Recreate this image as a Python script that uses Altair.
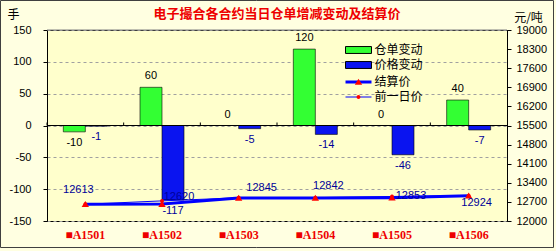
import altair as alt
import pandas as pd

categories = ["■A1501", "■A1502", "■A1503", "■A1504", "■A1505", "■A1506"]
bar_series = ["仓单变动", "价格变动"]
receipt_change = [-10, 60, 0, 120, 0, 40]
price_change = [-1, -117, -5, -14, -46, -7]
line_series = ["结算价", "前一日价"]
settle_price = [12613, 12620, 12845, 12842, 12853, 12924]
prev_price = [12614, 12737, 12850, 12856, 12899, 12931]
left_ticks = [-150, -100, -50, 0, 50, 100, 150]
right_ticks = [12000, 12700, 13400, 14100, 14800, 15500, 16200, 16900, 17600, 18300, 19000]
title_text = "电子撮合各合约当日仓单增减变动及结算价"

n = len(categories)
marker_keys = [s + "_mk" for s in line_series]
bars_df = pd.DataFrame({
    "cat": categories * 2,
    "series": [bar_series[0]] * n + [bar_series[1]] * n,
    "value": receipt_change + price_change,
})
lines_df = pd.DataFrame({
    "cat": categories * 2,
    "name": [line_series[0]] * n + [line_series[1]] * n,
    "mk": [marker_keys[0]] * n + [marker_keys[1]] * n,
    "price": settle_price + prev_price,
})
settle_df = pd.DataFrame({"cat": categories, "price": settle_price})
tick_df = pd.DataFrame({"cat": categories, "y0": [0] * n, "y1": [4.7] * n})
zero_df = pd.DataFrame({"z": [0]})

W, H = 460, 191
FONT = "Liberation Sans"
CJK = "Noto Sans CJK SC"
RED = "#ee0000"
NAVY = "#000099"
BLUE = "#0a14f0"
GREEN = "#33ff33"


def xenc(**kw):
    return alt.X("cat:N", sort=categories, title=None,
                 scale=alt.Scale(domain=categories, paddingInner=0, paddingOuter=0),
                 axis=alt.Axis(orient="bottom", ticks=False, domain=False, labelAngle=0,
                               labelColor=RED, labelFont="Liberation Serif, DejaVu Sans",
                               labelFontWeight="bold", labelFontSize=12, labelPadding=8,
                               grid=False),
                 **kw)


def yl():
    return alt.Scale(domain=[-150, 150], nice=False, zero=False)


def yr():
    return alt.Scale(domain=[12000, 19000], nice=False, zero=False)


xoff = alt.XOffset("series:N", sort=bar_series,
                   scale=alt.Scale(domain=bar_series, paddingInner=0, paddingOuter=0.742))

rect_path = "M-3,-0.8H3V0.8H-3Z"
line_path = "M-3,0H3"
tri_path = "M0,-0.75L0.85,0.65L-0.85,0.65Z"
dot_path = "M-0.45,0A0.45,0.45 0 1,0 0.45,0A0.45,0.45 0 1,0 -0.45,0Z"

LX, LY1, LY2 = 297, 14, 46
leg_common = dict(title=None, orient="none", direction="vertical", symbolSize=75,
                  symbolOffset=8.5, labelOffset=10, labelFont=CJK, labelFontSize=12,
                  labelColor="black", rowPadding=3, padding=0)

bars = alt.Chart(bars_df).mark_bar(stroke="black", strokeWidth=0.6).encode(
    x=xenc(),
    xOffset=xoff,
    y=alt.Y("value:Q", scale=yl(), title="手",
            axis=alt.Axis(orient="left", values=left_ticks, grid=True, gridDash=[3, 3],
                          gridColor="#a0a0a0", tickSize=4, tickColor="black",
                          domainColor="black", labelFont=FONT, labelFontSize=11,
                          labelColor="black", labelPadding=12, labelOverlap=False,
                          labelExpr="'' + datum.value",
                          titleAngle=0, titleX=-34, titleY=-16, titleAlign="center",
                          titleBaseline="middle", titleFont=CJK, titleFontSize=12,
                          titleFontWeight="normal", titleColor="black")),
    color=alt.Color("series:N", scale=alt.Scale(domain=bar_series, range=[GREEN, BLUE]),
                    legend=alt.Legend(legendX=LX, legendY=LY1, symbolType=rect_path,
                                      symbolStrokeColor="black", symbolStrokeWidth=1,
                                      **leg_common)),
)

label_color = alt.condition(alt.datum.series == bar_series[0], alt.value("black"), alt.value(NAVY))
bar_text_base = alt.Chart(bars_df).transform_calculate(lbl="'' + datum.value")
bar_text_pos = bar_text_base.transform_filter("datum.value >= 0").mark_text(
    baseline="middle", dy=-11, font=FONT, fontSize=11).encode(
    x=xenc(), xOffset=xoff, y=alt.Y("value:Q", scale=yl(), axis=None),
    text="lbl:N", color=label_color)
bar_text_neg = bar_text_base.transform_filter("datum.value < 0").mark_text(
    baseline="middle", dy=11, font=FONT, fontSize=11).encode(
    x=xenc(), xOffset=xoff, y=alt.Y("value:Q", scale=yl(), axis=None),
    text="lbl:N", color=label_color)

zero_rule = alt.Chart(zero_df).mark_rule(color="black").encode(
    y=alt.Y("z:Q", scale=yl(), axis=None))
cat_ticks = alt.Chart(tick_df).mark_rule(color="black").encode(
    x=xenc(bandPosition=0),
    y=alt.Y("y0:Q", scale=yl(), axis=None), y2="y1:Q")
top_line = alt.Chart(zero_df).mark_rule(color="#808080").encode(
    x=alt.value(0), x2=alt.value(W), y=alt.value(0))
frame = alt.Chart(zero_df).mark_rect(fillOpacity=0, stroke="#404040", strokeWidth=1).encode(
    x=alt.value(-46.5), x2=alt.value(506.5), y=alt.value(-29.5), y2=alt.value(217.5))

lines = alt.Chart(lines_df).mark_line(color="#0000ff").encode(
    x=xenc(),
    y=alt.Y("price:Q", scale=yr(), title="元/吨",
            axis=alt.Axis(orient="right", values=right_ticks, grid=False, tickSize=4,
                          tickColor="black", domainColor="black", labelFont=FONT,
                          labelFontSize=11, labelColor="black", labelPadding=5,
                          labelOverlap=False, format="d", titleAngle=0, titleX=21,
                          titleY=-13, titleAlign="center", titleBaseline="middle",
                          titleFont=CJK, titleFontSize=12, titleFontWeight="normal",
                          titleColor="black")),
    strokeWidth=alt.StrokeWidth("name:N", scale=alt.Scale(domain=line_series, range=[3, 1]),
                                legend=alt.Legend(legendX=LX, legendY=LY2,
                                                  symbolType=line_path,
                                                  symbolStrokeColor="#0000ff",
                                                  symbolFillColor="transparent",
                                                  zindex=1, **leg_common)),
)
points = alt.Chart(lines_df).mark_point(filled=True, color="#ff0000", size=75, opacity=1).encode(
    x=xenc(),
    y=alt.Y("price:Q", scale=yr(), axis=None),
    shape=alt.Shape("mk:N", scale=alt.Scale(domain=marker_keys, range=[tri_path, dot_path]),
                    legend=alt.Legend(legendX=LX, legendY=LY2,
                                      symbolFillColor="#ff0000", symbolStrokeWidth=0,
                                      labelExpr="' '", labelOpacity=0, zindex=2,
                                      **leg_common)),
)

offsets = [(-7, -14), (17, -7), (23, -10), (13, -12), (19, -2), (8, 7)]
price_texts = []
for c, (ddx, ddy) in zip(categories, offsets):
    price_texts.append(
        alt.Chart(settle_df).transform_filter(alt.datum.cat == c).mark_text(
            baseline="middle", dx=ddx, dy=ddy, font=FONT, fontSize=11, color=NAVY).encode(
            x=xenc(), y=alt.Y("price:Q", scale=yr(), axis=None), text="price:Q"))

chart = alt.layer(
    bars, bar_text_pos, bar_text_neg, zero_rule, cat_ticks, top_line, frame,
    lines, points, *price_texts
).resolve_scale(y="independent").properties(
    width=W, height=H,
    title=alt.TitleParams(title_text, color=RED, font=CJK, fontSize=13, fontWeight="bold",
                          anchor="middle", offset=-21),
    padding={"left": 47, "top": 30, "right": 49, "bottom": 30},
    autosize=alt.AutoSizeParams(type="none"),
    background="#ffffe1",
).configure_view(fill="#ffffcc", stroke="black", strokeWidth=1)

chart.save("out.html", embed_options={"renderer": "svg", "actions": False})
